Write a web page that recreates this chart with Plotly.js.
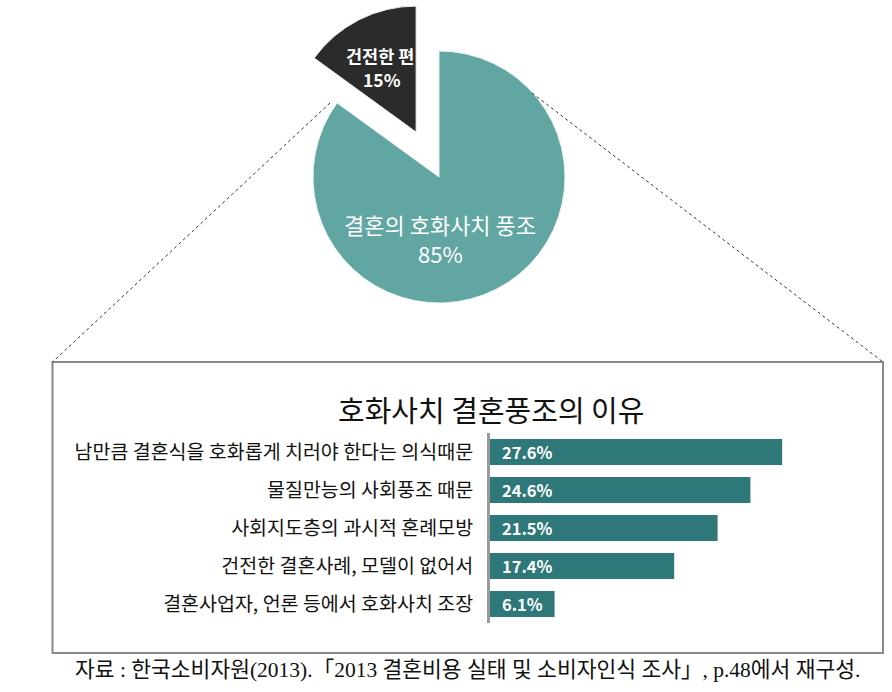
<!DOCTYPE html>
<html>
<head>
<meta charset="utf-8">
<script src="https://cdn.plot.ly/plotly-3.0.1.min.js"></script>
<style>html,body{margin:0;padding:0;background:#fff;}#chart{width:892px;height:692px;}</style>
</head>
<body>
<div id="chart"></div>
<script>
// ---- data ----
const pieLabels = ['결혼의 호화사치 풍조', '건전한 편'];
const pieValues = [85, 15];
const pieColors = ['#62A6A3', '#2B2B2B'];
const piePull = [0, 0.4];

const barCategories = [
  '남만큼 결혼식을 호화롭게 치러야 한다는 의식때문',
  '물질만능의 사회풍조 때문',
  '사회지도층의 과시적 혼례모방',
  '건전한 결혼사례, 모델이 없어서',
  '결혼사업자, 언론 등에서 호화사치 조장'
];
const barValues = [27.6, 24.6, 21.5, 17.4, 6.1];

const chartTitle = '호화사치 결혼풍조의 이유';
const sourceNote = '자료 : 한국소비자원(2013).「2013 결혼비용 실태 및 소비자인식 조사」, p.48에서 재구성.';

// ---- helpers (pixel -> paper) ----
const W = 892, H = 692;
const px = x => x / W;
const py = y => 1 - y / H;

const KR = '"Noto Sans CJK KR", "Noto Sans", sans-serif';

const traces = [
  {
    type: 'pie',
    labels: pieLabels,
    values: pieValues,
    pull: piePull,
    sort: false,
    direction: 'clockwise',
    rotation: 0,
    textinfo: 'none',
    hoverinfo: 'label+percent',
    marker: { colors: pieColors, line: { color: '#e8f2f1', width: 1 } },
    domain: { x: [px(262.6), px(615.4)], y: [py(353.4), py(0.6)] },
    showlegend: false
  },
  {
    type: 'bar',
    orientation: 'h',
    x: barValues,
    y: barCategories,
    marker: { color: '#2E787A' },
    xaxis: 'x',
    yaxis: 'y',
    hoverinfo: 'x+y',
    showlegend: false
  }
];

const annotations = [];
// pie labels (name line and percent line)
annotations.push({
  xref: 'paper', yref: 'paper', x: px(440), y: py(224),
  text: pieLabels[0],
  showarrow: false, xanchor: 'center', yanchor: 'middle',
  font: { family: KR, size: 22, color: '#ffffff' }
});
annotations.push({
  xref: 'paper', yref: 'paper', x: px(440), y: py(253),
  text: pieValues[0] + '%',
  showarrow: false, xanchor: 'center', yanchor: 'middle',
  font: { family: KR, size: 22, color: '#ffffff' }
});
annotations.push({
  xref: 'paper', yref: 'paper', x: px(380), y: py(55),
  text: '<b>' + pieLabels[1] + '</b>',
  showarrow: false, xanchor: 'center', yanchor: 'middle',
  font: { family: KR, size: 17.5, color: '#ffffff' }
});
annotations.push({
  xref: 'paper', yref: 'paper', x: px(382), y: py(80),
  text: '<b>' + pieValues[1] + '%</b>',
  showarrow: false, xanchor: 'center', yanchor: 'middle',
  font: { family: KR, size: 17.5, color: '#ffffff' }
});
// bar value labels
barCategories.forEach((c, i) => {
  annotations.push({
    xref: 'x', yref: 'y', x: 0, y: c,
    text: '<b>' + barValues[i].toFixed(1) + '%</b>',
    showarrow: false, xanchor: 'left', yanchor: 'middle', xshift: 10,
    font: { family: KR, size: 16.5, color: '#ffffff' }
  });
});
// bar chart title
annotations.push({
  xref: 'paper', yref: 'paper', x: px(491), y: py(409),
  text: chartTitle, showarrow: false, xanchor: 'center', yanchor: 'middle',
  font: { family: KR, size: 29, color: '#111111' }
});
// source
annotations.push({
  xref: 'paper', yref: 'paper', x: px(467), y: py(670),
  text: sourceNote, showarrow: false, xanchor: 'center', yanchor: 'middle',
  font: { family: '"Liberation Serif", "Noto Sans CJK KR", serif', size: 21.5, color: '#111111' }
});

const shapes = [
  { type: 'rect', xref: 'paper', yref: 'paper', x0: px(52.5), x1: px(883), y0: py(362), y1: py(653),
    line: { color: '#8a8a8a', width: 2 }, fillcolor: 'rgba(0,0,0,0)', layer: 'below' },
  { type: 'line', xref: 'paper', yref: 'paper', x0: px(330), y0: py(103), x1: px(52.5), y1: py(362),
    line: { color: '#333333', width: 1, dash: 'dot' } },
  { type: 'line', xref: 'paper', yref: 'paper', x0: px(532), y0: py(93), x1: px(883), y1: py(362),
    line: { color: '#333333', width: 1, dash: 'dot' } }
];

const layout = {
  width: W, height: H,
  margin: { l: 0, r: 0, t: 0, b: 0 },
  paper_bgcolor: '#ffffff', plot_bgcolor: 'rgba(0,0,0,0)',
  showlegend: false,
  bargap: 0.32,
  xaxis: {
    domain: [px(490), px(860.5)], range: [0, 35],
    showgrid: false, zeroline: false, showline: false, showticklabels: false, ticks: ''
  },
  yaxis: {
    domain: [py(623), py(433)], autorange: 'reversed',
    showgrid: false, zeroline: false,
    showline: true, linecolor: '#9a9a9a', linewidth: 3,
    ticks: 'outside', ticklen: 10, tickcolor: 'rgba(0,0,0,0)',
    tickfont: { family: KR, size: 19.5, color: '#111111' }
  },
  annotations: annotations,
  shapes: shapes,
  font: { family: KR }
};

Plotly.newPlot('chart', traces, layout, { displayModeBar: false, staticPlot: true });
</script>
</body>
</html>
